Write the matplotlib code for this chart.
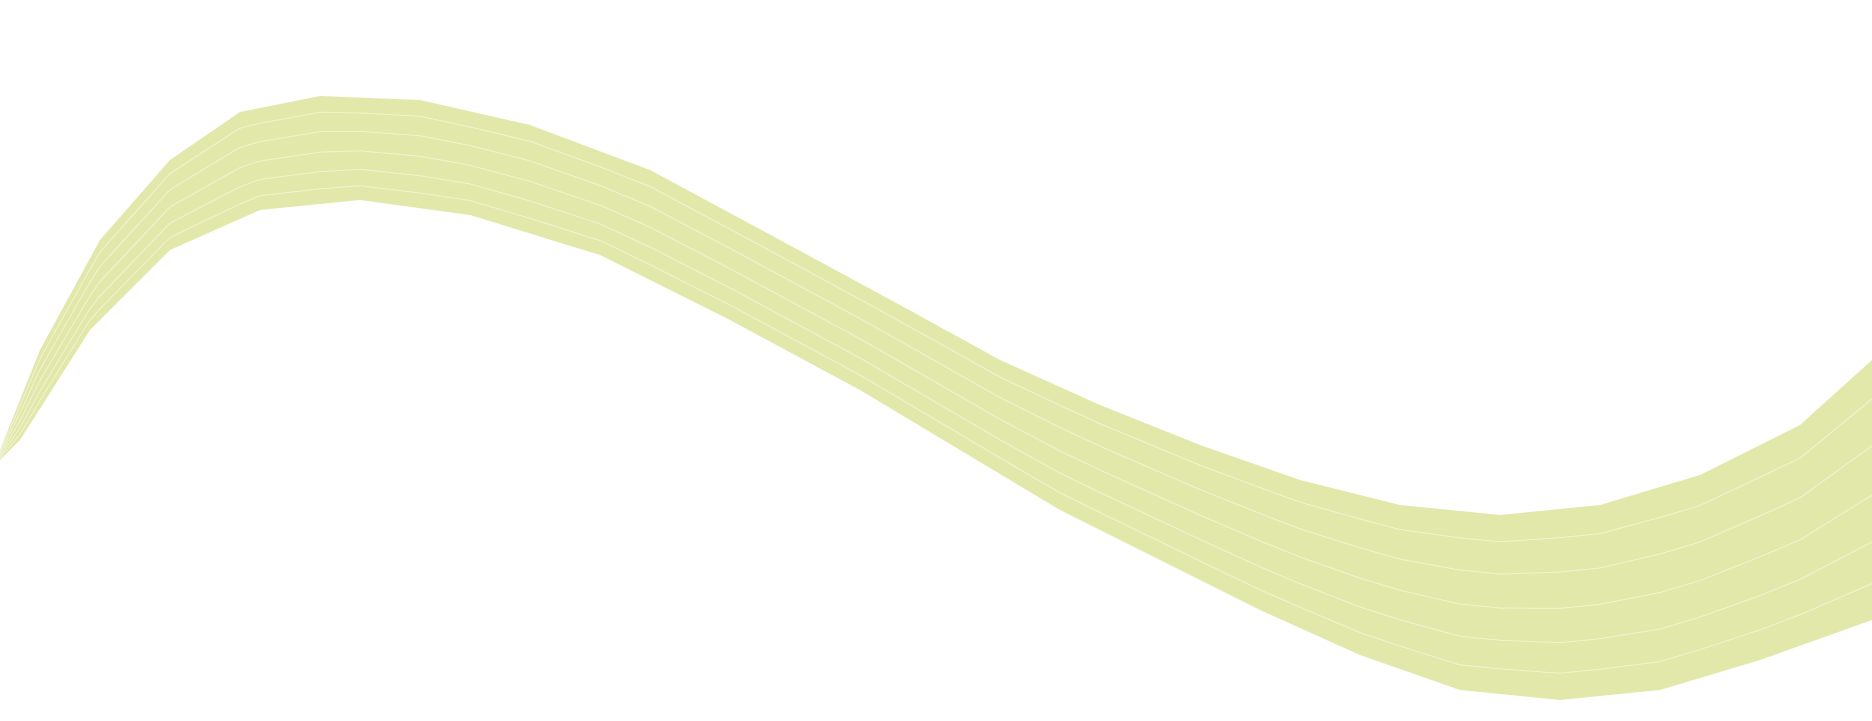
import matplotlib
matplotlib.use("Agg")
import matplotlib.pyplot as plt
import numpy as np

# Outline of the brush stroke (pixel coordinates of the reference image)
upper_x = [0, 40, 100, 170, 240, 320, 420, 530, 650, 780, 900, 1000, 1100, 1200, 1300, 1400, 1500, 1600, 1700, 1800, 1872]
upper_y = [450, 350, 240, 160, 112, 96, 100, 125, 170, 240, 305, 360, 405, 445, 480, 505, 515, 505, 475, 425, 360]
lower_x = [0, 20, 90, 170, 260, 360, 470, 600, 730, 860, 960, 1060, 1160, 1260, 1360, 1460, 1560, 1660, 1760, 1872]
lower_y = [460, 440, 330, 250, 210, 200, 215, 255, 320, 390, 450, 510, 560, 610, 655, 690, 700, 690, 660, 620]

color = "#e2e8aa"
fig = plt.figure(figsize=(18.72, 7.21), dpi=100)
ax = fig.add_axes([0, 0, 1, 1])
ax.set_xlim(0, 1872)
ax.set_ylim(721, 0)
ax.axis("off")

xs = upper_x + lower_x[::-1]
ys = upper_y + lower_y[::-1]
ax.fill(xs, ys, color=color, lw=0)

ux = np.linspace(0, 1872, 400)
uy = np.interp(ux, upper_x, upper_y)
ly = np.interp(ux, lower_x, lower_y)
for f in [0.15, 0.33, 0.52, 0.7, 0.86]:
    ax.plot(ux, uy + (ly - uy) * f, color="white", lw=0.7, alpha=0.5)

fig.savefig("out.png", dpi=100)
